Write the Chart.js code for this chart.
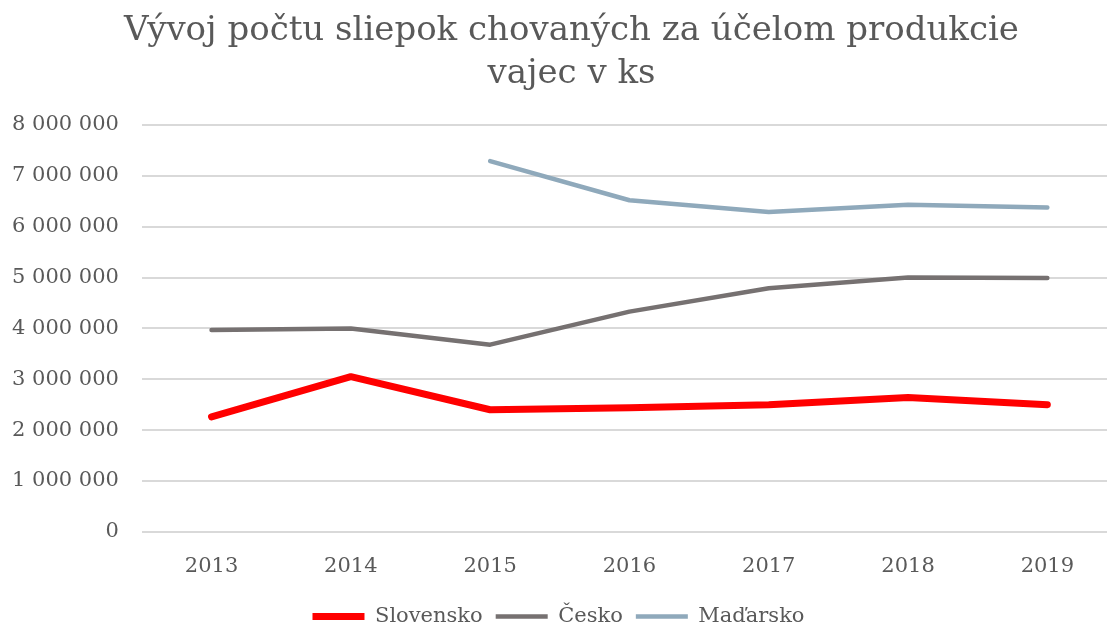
<!DOCTYPE html>
<html>
<head>
<meta charset="utf-8">
<script src="https://cdn.jsdelivr.net/npm/chart.js@4"></script>
<style>
  html, body { margin: 0; padding: 0; background: #fff; overflow: hidden; }
  #wrap { width: 1120px; height: 628px; }
</style>
</head>
<body>
<div id="wrap"><canvas id="chart"></canvas></div>
<script>
// Data
const years = ['2013', '2014', '2015', '2016', '2017', '2018', '2019'];
const slovensko = [2260000, 3050000, 2400000, 2440000, 2500000, 2640000, 2500000];
const cesko = [3970000, 4000000, 3680000, 4330000, 4790000, 5000000, 4990000];
const madarsko = [null, null, 7290000, 6520000, 6290000, 6430000, 6380000];
const titleLines = ['Vývoj počtu sliepok chovaných za účelom produkcie', 'vajec v ks'];

const textColor = '#595959';
const serif = 'DejaVu Serif';

function spaced(v) {
  return String(v).replace(/\B(?=(\d{3})+(?!\d))/g, ' ');
}

// nudge the title box so it is centred like in the original
const titleShift = {
  id: 'titleShift',
  afterLayout(chart) {
    if (chart.titleBlock) chart.titleBlock.left += 26;
  }
};

const ctx = document.getElementById('chart').getContext('2d');
new Chart(ctx, {
  type: 'line',
  data: {
    labels: years,
    datasets: [
      { label: 'Slovensko', data: slovensko, borderColor: '#ff0000', backgroundColor: '#ff0000', borderWidth: 7 },
      { label: 'Česko', data: cesko, borderColor: '#767171', backgroundColor: '#767171', borderWidth: 4.5 },
      { label: 'Maďarsko', data: madarsko, borderColor: '#8fa9bb', backgroundColor: '#8fa9bb', borderWidth: 4.5 }
    ]
  },
  plugins: [titleShift],
  options: {
    responsive: true,
    maintainAspectRatio: false,
    animation: false,
    layout: { padding: { left: 0, right: 3, top: 10, bottom: -9 } },
    elements: {
      point: { radius: 0, hoverRadius: 0 },
      line: { borderCapStyle: 'round', borderJoinStyle: 'round', tension: 0 }
    },
    plugins: {
      title: {
        display: true,
        text: titleLines,
        color: textColor,
        font: { family: serif, size: 34, weight: 'normal', lineHeight: 1.25 },
        padding: { top: 0, bottom: 30 }
      },
      legend: {
        position: 'bottom',
        labels: {
          usePointStyle: true,
          pointStyle: 'line',
          pointStyleWidth: 52,
          boxWidth: 52,
          boxHeight: 8,
          padding: 13,
          color: textColor,
          font: { family: serif, size: 21 }
        }
      },
      tooltip: { enabled: false }
    },
    scales: {
      x: {
        offset: true,
        grid: { display: false },
        border: { display: false },
        ticks: { color: textColor, font: { family: serif, size: 21 }, padding: 14 }
      },
      y: {
        min: 0,
        max: 8000000,
        afterFit: s => { s.width -= 11; },
        ticks: {
          stepSize: 1000000,
          color: textColor,
          font: { family: serif, size: 21 },
          padding: 23,
          callback: v => spaced(v)
        },
        grid: { color: '#d9d9d9', lineWidth: 2, drawTicks: false },
        border: { display: false }
      }
    }
  }
});
</script>
</body>
</html>
